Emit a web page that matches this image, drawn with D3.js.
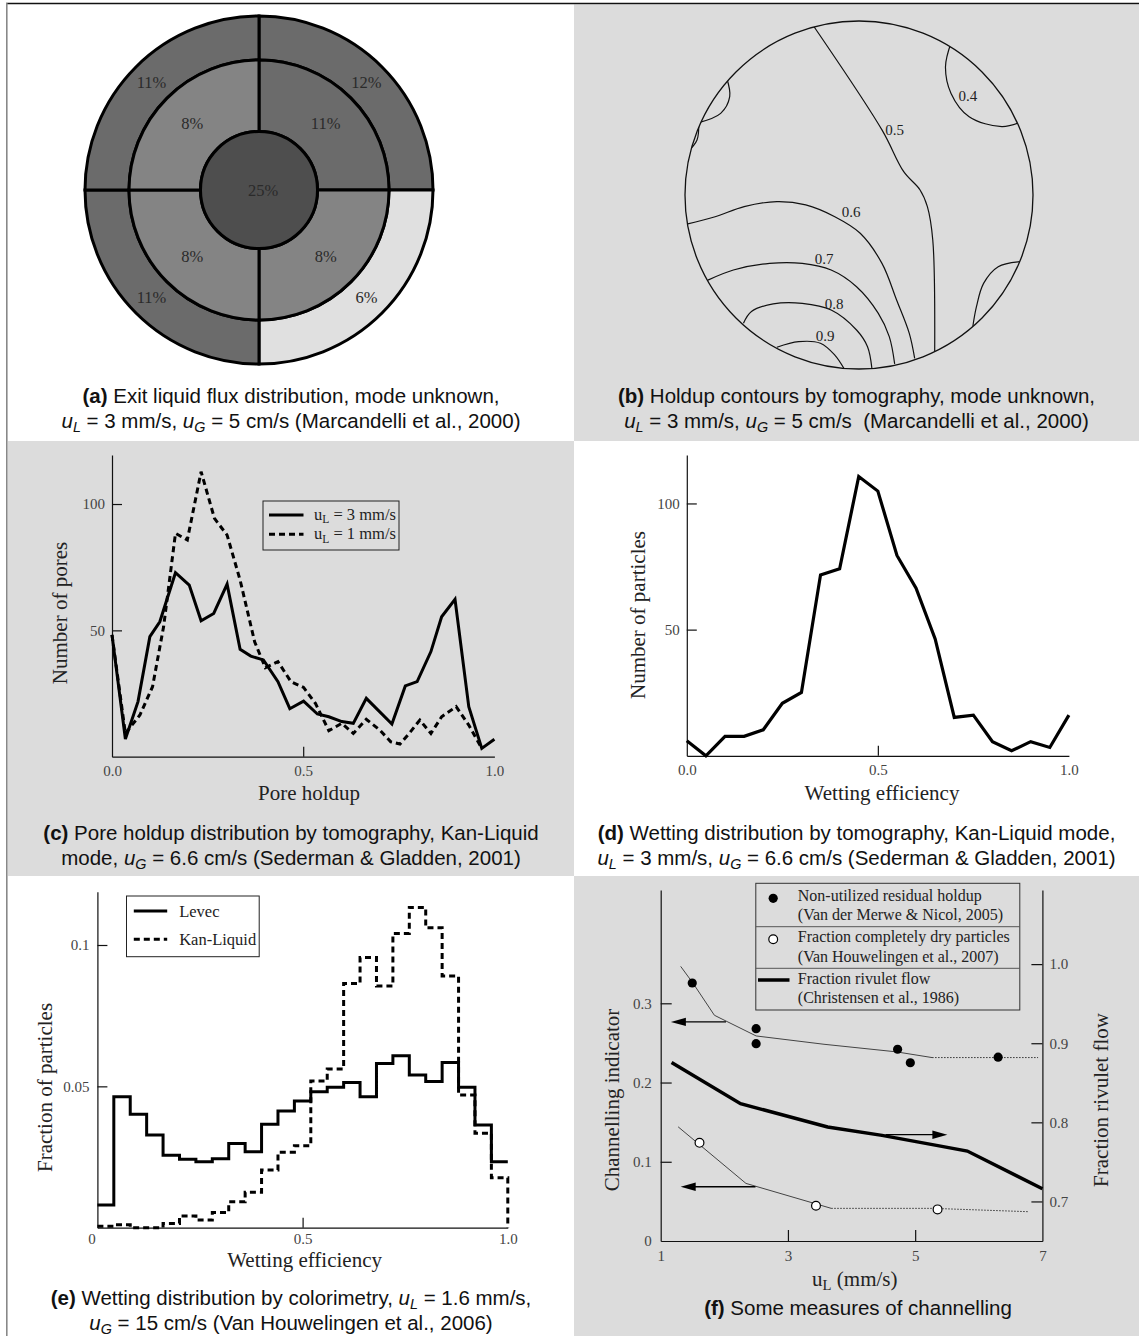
<!DOCTYPE html>
<html>
<head>
<meta charset="utf-8">
<script src="https://cdn.jsdelivr.net/npm/d3@7"></script>
<style>
  body { margin: 0; background: #fff; }
  svg text { white-space: pre; }
</style>
</head>
<body>
<svg id="fig" width="1139" height="1336"></svg>
<script>
// ---------- (a) exit liquid flux, % per sector, quadrants clockwise from 12 o'clock
const fluxOuter = [12, 6, 11, 11];
const fluxMiddle = [11, 8, 8, 8];
const fluxCentre = 25;

// ---------- (b) holdup contours, [u, v] normalised to the column radius
const contourLevels = ["0.4", "0.5", "0.6", "0.7", "0.8", "0.9"];
const contour04 = [[0.529, -0.875], [0.497, -0.737], [0.529, -0.584], [0.633, -0.45], [0.821, -0.393], [0.935, -0.421]];
const contour05 = [[-0.274, -0.99], [0.132, -0.374], [0.257, -0.134], [0.351, -0.029], [0.393, 0.067], [0.424, 0.259], [0.435, 0.9]];
const contour06 = [[-0.99, 0.167], [-0.827, 0.125], [-0.66, 0.067], [-0.472, 0.038], [-0.306, 0.057], [-0.139, 0.125], [0.007, 0.22], [0.132, 0.393], [0.216, 0.603], [0.289, 0.795], [0.32, 0.939]];
const contour07 = [[-0.868, 0.489], [-0.722, 0.431], [-0.514, 0.393], [-0.326, 0.393], [-0.16, 0.431], [-0.014, 0.527], [0.111, 0.68], [0.174, 0.814], [0.205, 0.971]];
const contour08 = [[-0.664, 0.737], [-0.618, 0.67], [-0.493, 0.626], [-0.326, 0.623], [-0.16, 0.661], [-0.014, 0.776], [0.049, 0.872], [0.074, 0.996]];
const contour09 = [[-0.472, 0.875], [-0.347, 0.843], [-0.222, 0.852], [-0.139, 0.92], [-0.087, 0.996]];
const contourWallA = [[-0.76, -0.671], [-0.743, -0.565], [-0.795, -0.469], [-0.921, -0.416]];
const contourWallB = [[-0.921, -0.416], [-0.931, -0.316], [-0.983, -0.249]];
const contourWallC = [[0.925, 0.383], [0.8, 0.412], [0.716, 0.508], [0.675, 0.642], [0.654, 0.757]];
const contourLabelPos = [[0.626, -0.571], [0.205, -0.374], [-0.045, 0.1], [-0.201, 0.368], [-0.143, 0.626], [-0.195, 0.81]];

// ---------- (c) pore holdup distribution
const poreHoldup3 = [0, 0.035, 0.068, 0.099, 0.125, 0.166, 0.202, 0.233, 0.266, 0.301, 0.335, 0.363, 0.396, 0.434, 0.465, 0.501, 0.537, 0.567, 0.601, 0.631, 0.665, 0.732, 0.767, 0.798, 0.834, 0.862, 0.897, 0.933, 0.967, 1.0];
const pores3 = [48.2, 7.0, 21.8, 47.5, 53.4, 72.8, 67.9, 53.8, 56.7, 68.3, 42.5, 39.8, 38.3, 29.7, 19.0, 22.0, 16.9, 15.8, 13.9, 13.2, 23.1, 12.9, 28.0, 29.7, 41.6, 55.4, 62.3, 19.8, 3.3, 6.9];
const poreHoldup1 = [0, 0.035, 0.073, 0.106, 0.135, 0.166, 0.197, 0.233, 0.268, 0.301, 0.335, 0.373, 0.401, 0.434, 0.468, 0.501, 0.532, 0.567, 0.601, 0.631, 0.665, 0.7, 0.729, 0.753, 0.777, 0.805, 0.834, 0.862, 0.9, 0.933, 0.967];
const pores1 = [48.2, 9.2, 16.5, 27.7, 51.5, 88.4, 85.8, 112.8, 94.3, 87.7, 69.9, 45.5, 35.2, 37.6, 29.7, 27.4, 21.1, 10.3, 13.2, 9.2, 14.8, 10.6, 5.9, 5.0, 9.2, 14.5, 9.2, 15.8, 19.8, 12.5, 3.3];

// ---------- (d) wetting distribution by tomography
const wettingD = [0, 0.05, 0.1, 0.15, 0.2, 0.25, 0.3, 0.35, 0.4, 0.45, 0.5, 0.55, 0.6, 0.65, 0.7, 0.75, 0.8, 0.85, 0.9, 0.95, 1.0];
const particlesD = [6.0, 0, 7.7, 7.7, 10.3, 20.8, 25.1, 71.7, 74.1, 110.7, 104.9, 79.4, 66.4, 46.3, 15.2, 16.1, 5.6, 2.0, 5.6, 3.3, 16.1];

// ---------- (e) wetting distribution by colorimetry (bin left edges + closing edge)
const binEdges = [0, 0.04, 0.08, 0.12, 0.16, 0.2, 0.24, 0.28, 0.32, 0.36, 0.4, 0.44, 0.48, 0.52, 0.56, 0.6, 0.64, 0.68, 0.72, 0.76, 0.8, 0.84, 0.88, 0.92, 0.96, 1.0];
const levec = [0.008, 0.0463, 0.0401, 0.0328, 0.0256, 0.0242, 0.0233, 0.0244, 0.0298, 0.0269, 0.0366, 0.0413, 0.0448, 0.0481, 0.0497, 0.0514, 0.0463, 0.0581, 0.0608, 0.054, 0.0517, 0.0584, 0.0497, 0.0363, 0.0233];
const kanLiquid = [0.0005, 0.001, 0, 0, 0.0015, 0.0041, 0.0027, 0.0054, 0.0092, 0.0125, 0.0204, 0.0267, 0.029, 0.0519, 0.0561, 0.0864, 0.0956, 0.0855, 0.1041, 0.1133, 0.1061, 0.089, 0.0469, 0.0334, 0.0177];

// ---------- (f) channelling measures
const residUL = [1.496, 2.5, 2.5, 4.724, 4.924, 6.304];
const residHoldup = [0.3256, 0.268, 0.249, 0.242, 0.225, 0.232];
const residFitUL = [1.314, 1.513, 1.844, 2.5, 3.567, 4.707, 5.266, 6.932];
const residFit = [0.3466, 0.3248, 0.2849, 0.2588, 0.2483, 0.2387, 0.2315, 0.2315];
const dryUL = [1.61, 3.441, 5.352];
const dryFraction = [0.1239, 0.0445, 0.0399];
const dryFitUL = [1.274, 2.34, 3.681, 5.278, 6.772];
const dryFit = [0.1441, 0.0727, 0.0412, 0.0412, 0.037];
const rivuletUL = [1.171, 2.255, 3.624, 4.479, 5.335, 5.82, 7.0];
const rivuletFlow = [0.8755, 0.8236, 0.7941, 0.7835, 0.7709, 0.7637, 0.716];
const arrowFrom = [2.027, 4.536, 2.49];
const arrowTo = [1.16, 5.506, 1.314];
const arrowLevel = [0.2765, 0.7844, 0.0685];
const arrowAxis = ["left", "right", "left"];

const SERIF = "'Liberation Serif','Times New Roman',serif";
const SANS = "'Liberation Sans',Arial,sans-serif";
const GREY = "#dcdcdc";

const translate = (a, b) => "translate(" + a + "," + b + ")";
const svg = d3.select("#fig");

// panel backgrounds
const panels = [
  [8, 4.5, 566, 436.5, "#fff"], [574, 4.5, 565, 436.5, GREY],
  [8, 441, 566, 435, GREY], [574, 441, 565, 435, "#fff"],
  [8, 876, 566, 460, "#fff"], [574, 876, 565, 460, GREY]
];
svg.selectAll("rect.panel").data(panels).enter().append("rect")
  .attr("class", "panel")
  .attr("x", d => d[0]).attr("y", d => d[1])
  .attr("width", d => d[2]).attr("height", d => d[3])
  .attr("fill", d => d[4]);
svg.append("line").attr("x1", 6).attr("x2", 1139).attr("y1", 3.5).attr("y2", 3.5)
  .attr("stroke", "#111").attr("stroke-width", 1.5);
svg.append("line").attr("x1", 6.8).attr("x2", 6.8).attr("y1", 3).attr("y2", 1336)
  .attr("stroke", "#888").attr("stroke-width", 1.6);

// text with bold / italic / subscript segments
function richText(sel, segs) {
  let low = false;
  segs.forEach(s => {
    const t = sel.append("tspan").text(s[0]);
    const sub = s[1] === "s" || s[1] === "rs";
    if (s[1] === "b") t.attr("font-weight", "bold");
    if (s[1] === "i" || s[1] === "s") t.attr("font-style", "italic");
    if (sub) t.attr("font-size", "70%");
    if (sub && !low) { t.attr("dy", "0.3em"); low = true; }
    else if (!sub && low) { t.attr("dy", "-0.21em"); low = false; }
  });
}

function caption(cx, y0, lines) {
  lines.forEach((segs, i) => {
    const t = svg.append("text")
      .attr("x", cx).attr("y", y0 + i * 24.5)
      .attr("text-anchor", "middle")
      .attr("font-family", SANS).attr("font-size", 20.5).attr("fill", "#111");
    richText(t, segs);
  });
}

function styleAxis(g) {
  g.attr("font-size", null).attr("font-family", null);
  g.select(".domain").attr("stroke", "#111").attr("stroke-width", 1.2);
  g.selectAll(".tick line").attr("stroke", "#111").attr("stroke-width", 1.2);
  g.selectAll(".tick text").attr("font-family", SERIF).attr("font-size", 15).attr("fill", "#444");
}

function dropEndTicks(g, keep) {
  g.selectAll(".tick").filter(d => !keep.includes(d)).select("line").remove();
}

function yTitle(x, y, label) {
  const t = svg.append("text")
    .attr("transform", translate(x, y) + " rotate(-90)")
    .attr("text-anchor", "middle").attr("dominant-baseline", "central")
    .attr("font-family", SERIF).attr("font-size", 21).attr("fill", "#222");
  richText(t, label);
}

function xTitle(x, y, label) {
  const t = svg.append("text")
    .attr("x", x).attr("y", y)
    .attr("text-anchor", "middle")
    .attr("font-family", SERIF).attr("font-size", 21).attr("fill", "#222");
  richText(t, label);
}

// ================= (a) flux distribution =================
(function() {
  const g = svg.append("g").attr("transform", translate(259, 190));
  const shade = d3.scaleThreshold().domain([7, 10, 20])
    .range(["#e0e0e0", "#848484", "#6b6b6b", "#4e4e4e"]);
  const quarter = Math.PI / 2;
  const rings = [
    { values: fluxOuter, inner: 130, outer: 174 },
    { values: fluxMiddle, inner: 58.5, outer: 130 }
  ];
  rings.forEach(ring => {
    const arc = d3.arc().innerRadius(ring.inner).outerRadius(ring.outer)
      .startAngle((d, i) => i * quarter).endAngle((d, i) => (i + 1) * quarter);
    g.selectAll(null).data(ring.values).enter().append("path")
      .attr("d", arc)
      .attr("fill", d => shade(d))
      .attr("stroke", "#000").attr("stroke-width", 3);
    g.selectAll(null).data(ring.values).enter().append("text")
      .attr("transform", (d, i) => {
        const c = arc.centroid(d, i);
        return translate(c[0], c[1]);
      })
      .attr("text-anchor", "middle").attr("dominant-baseline", "central")
      .attr("font-family", SERIF).attr("font-size", 16.5).attr("fill", "#2a2a2a")
      .text(d => d + "%");
  });
  g.append("circle").attr("r", 58.5)
    .attr("fill", shade(fluxCentre)).attr("stroke", "#000").attr("stroke-width", 3);
  g.append("text").attr("x", 4).attr("text-anchor", "middle").attr("dominant-baseline", "central")
    .attr("font-family", SERIF).attr("font-size", 16.5).attr("fill", "#2a2a2a")
    .text(fluxCentre + "%");
})();

caption(291, 403, [
  [["(a)", "b"], [" Exit liquid flux distribution, mode unknown,", ""]],
  [["u", "i"], ["L", "s"], [" = 3 mm/s, ", ""], ["u", "i"], ["G", "s"], [" = 5 cm/s (Marcandelli et al., 2000)", ""]]
]);

// ================= (b) holdup contours =================
(function() {
  const R = 174;
  const g = svg.append("g").attr("transform", translate(859, 195));
  const u = d3.scaleLinear().domain([-1, 1]).range([-R, R]);
  const v = d3.scaleLinear().domain([-1, 1]).range([-R, R]);
  svg.append("defs").append("clipPath").attr("id", "clipB")
    .append("circle").attr("r", R);
  const line = d3.line().x(d => u(d[0])).y(d => v(d[1])).curve(d3.curveCatmullRom.alpha(0.5));
  const contours = [contour04, contour05, contour06, contour07, contour08, contour09,
                    contourWallA, contourWallB, contourWallC];
  g.append("g").attr("clip-path", "url(#clipB)")
    .selectAll("path").data(contours).enter().append("path")
    .attr("d", line).attr("fill", "none")
    .attr("stroke", "#111").attr("stroke-width", 1.2);
  g.append("circle").attr("r", R).attr("fill", "none")
    .attr("stroke", "#111").attr("stroke-width", 1.3);
  g.selectAll("text").data(contourLevels).enter().append("text")
    .attr("x", (d, i) => u(contourLabelPos[i][0]))
    .attr("y", (d, i) => v(contourLabelPos[i][1]))
    .attr("text-anchor", "middle").attr("dominant-baseline", "central")
    .attr("font-family", SERIF).attr("font-size", 15).attr("fill", "#222")
    .text(d => d);
})();

caption(856.5, 403, [
  [["(b)", "b"], [" Holdup contours by tomography, mode unknown,", ""]],
  [["u", "i"], ["L", "s"], [" = 3 mm/s, ", ""], ["u", "i"], ["G", "s"], [" = 5 cm/s  (Marcandelli et al., 2000)", ""]]
]);

// ================= (c) pore holdup =================
(function() {
  const x = d3.scaleLinear().domain([0, 1]).range([112, 494.4]);
  const y = d3.scaleLinear().domain([0, 119.4]).range([756.7, 455]);
  const gx = svg.append("g").attr("transform", translate(0, 756.7))
    .call(d3.axisBottom(x).tickValues([0, 0.5, 1]).tickFormat(d3.format(".1f"))
      .tickSize(-10).tickSizeOuter(0).tickPadding(9));
  styleAxis(gx); dropEndTicks(gx, [0.5]);
  const gy = svg.append("g").attr("transform", translate(112, 0))
    .call(d3.axisLeft(y).tickValues([50, 100]).tickSize(-10).tickSizeOuter(0).tickPadding(7));
  styleAxis(gy);

  const series = [
    { xs: poreHoldup3, ys: pores3, dash: null },
    { xs: poreHoldup1, ys: pores1, dash: "6,4" }
  ];
  series.forEach(s => {
    const line = d3.line().x((d, i) => x(s.xs[i])).y(d => y(d));
    svg.append("path").datum(s.ys).attr("d", line)
      .attr("fill", "none").attr("stroke", "#000").attr("stroke-width", 3)
      .attr("stroke-dasharray", s.dash);
  });

  // legend
  const lg = svg.append("g").attr("transform", translate(263, 501));
  lg.append("rect").attr("width", 136).attr("height", 49)
    .attr("fill", "none").attr("stroke", "#222").attr("stroke-width", 1);
  const labels = [[["u", ""], ["L", "rs"], [" = 3 mm/s", ""]], [["u", ""], ["L", "rs"], [" = 1 mm/s", ""]]];
  labels.forEach((lab, i) => {
    const yy = 14 + i * 19.3;
    lg.append("line").attr("x1", 6).attr("x2", 40.5).attr("y1", yy).attr("y2", yy)
      .attr("stroke", "#000").attr("stroke-width", 3)
      .attr("stroke-dasharray", i ? "6,4" : null);
    const t = lg.append("text").attr("x", 51).attr("y", yy + 5)
      .attr("font-family", SERIF).attr("font-size", 16.5).attr("fill", "#222");
    richText(t, lab);
  });
})();
yTitle(60, 613, [["Number of pores", ""]]);
xTitle(309, 800, [["Pore holdup", ""]]);
caption(291, 840, [
  [["(c)", "b"], [" Pore holdup distribution by tomography, Kan-Liquid", ""]],
  [["mode, ", ""], ["u", "i"], ["G", "s"], [" = 6.6 cm/s (Sederman & Gladden, 2001)", ""]]
]);

// ================= (d) wetting by tomography =================
(function() {
  const x = d3.scaleLinear().domain([0, 1]).range([686.8, 1068.9]);
  const y = d3.scaleLinear().domain([0, 119.2]).range([755.8, 455]);
  const gx = svg.append("g").attr("transform", translate(0, 755.8))
    .call(d3.axisBottom(x).tickValues([0, 0.5, 1]).tickFormat(d3.format(".1f"))
      .tickSize(-10).tickSizeOuter(0).tickPadding(9));
  styleAxis(gx); dropEndTicks(gx, [0.5]);
  const gy = svg.append("g").attr("transform", translate(686.8, 0))
    .call(d3.axisLeft(y).tickValues([50, 100]).tickSize(-10).tickSizeOuter(0).tickPadding(7));
  styleAxis(gy);
  const line = d3.line().x((d, i) => x(wettingD[i])).y(d => y(d));
  svg.append("path").datum(particlesD).attr("d", line)
    .attr("fill", "none").attr("stroke", "#000").attr("stroke-width", 3.2);
})();
yTitle(638, 615, [["Number of particles", ""]]);
xTitle(882, 800, [["Wetting efficiency", ""]]);
caption(856.5, 840, [
  [["(d)", "b"], [" Wetting distribution by tomography, Kan-Liquid mode,", ""]],
  [["u", "i"], ["L", "s"], [" = 3 mm/s, ", ""], ["u", "i"], ["G", "s"], [" = 6.6 cm/s (Sederman & Gladden, 2001)", ""]]
]);

// ================= (e) wetting by colorimetry =================
(function() {
  const x = d3.scaleLinear().domain([0, 1]).range([97.4, 507.8]);
  const y = d3.scaleLinear().domain([0, 0.1]).range([1227.7, 945]);
  const top = y.invert(891.7);
  const gx = svg.append("g").attr("transform", translate(0, 1227.7))
    .call(d3.axisBottom(x).tickValues([0, 0.5, 1])
      .tickFormat(d => d === 0 ? "0" : d3.format(".1f")(d))
      .tickSize(-10).tickSizeOuter(0).tickPadding(6));
  styleAxis(gx); dropEndTicks(gx, [0.5]);
  gx.selectAll(".tick text").filter(d => d === 0).attr("dx", -6);
  const yAxisScale = y.copy().domain([0, top]).range([1227.7, 891.7]);
  const gy = svg.append("g").attr("transform", translate(97.4, 0))
    .call(d3.axisLeft(yAxisScale).tickValues([0.05, 0.1]).tickFormat(d => String(d))
      .tickSize(-10).tickSizeOuter(0).tickPadding(8));
  styleAxis(gy);

  const series = [
    { vals: levec, dash: null, close: false },
    { vals: kanLiquid, dash: "6,4", close: true }
  ];
  series.forEach(s => {
    const pts = binEdges.map((e, i) => [e, s.vals[Math.min(i, s.vals.length - 1)]]);
    if (s.close) pts.push([binEdges[binEdges.length - 1], 0]);
    const line = d3.line().x(d => x(d[0])).y(d => y(d[1])).curve(d3.curveStepAfter);
    svg.append("path").datum(pts).attr("d", line)
      .attr("fill", "none").attr("stroke", "#000").attr("stroke-width", 3)
      .attr("stroke-dasharray", s.dash);
  });

  const lg = svg.append("g").attr("transform", translate(126.5, 896));
  lg.append("rect").attr("width", 132.7).attr("height", 60.7)
    .attr("fill", "#fff").attr("stroke", "#222").attr("stroke-width", 1);
  ["Levec", "Kan-Liquid"].forEach((lab, i) => {
    const yy = 15 + i * 28.3;
    lg.append("line").attr("x1", 7.3).attr("x2", 40.7).attr("y1", yy).attr("y2", yy)
      .attr("stroke", "#000").attr("stroke-width", 3)
      .attr("stroke-dasharray", i ? "6,4" : null);
    lg.append("text").attr("x", 52.7).attr("y", yy + 5.5)
      .attr("font-family", SERIF).attr("font-size", 16.5).attr("fill", "#222").text(lab);
  });
})();
yTitle(44.5, 1087.5, [["Fraction of particles", ""]]);
xTitle(304.6, 1267, [["Wetting efficiency", ""]]);
caption(291, 1305, [
  [["(e)", "b"], [" Wetting distribution by colorimetry, ", ""], ["u", "i"], ["L", "s"], [" = 1.6 mm/s,", ""]],
  [["u", "i"], ["G", "s"], [" = 15 cm/s (Van Houwelingen et al., 2006)", ""]]
]);

// ================= (f) channelling =================
(function() {
  const x = d3.scaleLinear().domain([1, 7]).range([660.7, 1042.4]);
  const yL = d3.scaleLinear().domain([0, 0.443]).range([1241, 890]);
  const yR = d3.scaleLinear().domain([0.65, 1.0937]).range([1241, 890]);

  const gx = svg.append("g").attr("transform", translate(0, 1241))
    .call(d3.axisBottom(x).tickValues([1, 3, 5, 7]).tickFormat(d => String(d))
      .tickSize(-11).tickSizeOuter(0).tickPadding(9));
  styleAxis(gx); dropEndTicks(gx, [3, 5]);
  const gl = svg.append("g").attr("transform", translate(660.7, 0))
    .call(d3.axisLeft(yL).tickValues([0, 0.1, 0.2, 0.3]).tickFormat(d => String(d))
      .tickSize(-11).tickSizeOuter(0).tickPadding(9));
  styleAxis(gl); dropEndTicks(gl, [0.1, 0.2, 0.3]);
  const gr = svg.append("g").attr("transform", translate(1042.4, 0))
    .call(d3.axisRight(yR).tickValues([0.7, 0.8, 0.9, 1.0]).tickFormat(d3.format(".1f"))
      .tickSize(-11).tickSizeOuter(0).tickPadding(7));
  styleAxis(gr);

  // thin fitted trends: solid at first, dotted towards high flow rates
  const fits = [[residFitUL, residFit, 6], [dryFitUL, dryFit, 2]];
  fits.forEach(f => {
    const pts = f[1].map((d, i) => [f[0][i], d]);
    const line = d3.line().x(d => x(d[0])).y(d => yL(d[1]));
    svg.append("path").datum(pts.slice(0, f[2] + 1)).attr("d", line)
      .attr("fill", "none").attr("stroke", "#444").attr("stroke-width", 1);
    svg.append("path").datum(pts.slice(f[2])).attr("d", line)
      .attr("fill", "none").attr("stroke", "#333").attr("stroke-width", 1)
      .attr("stroke-dasharray", "1.5,1.5");
  });

  // rivulet flow (right axis)
  const riv = d3.line().x((d, i) => x(rivuletUL[i])).y(d => yR(d));
  svg.append("path").datum(rivuletFlow).attr("d", riv)
    .attr("fill", "none").attr("stroke", "#000").attr("stroke-width", 3.5);

  svg.selectAll(null).data(residHoldup).enter().append("circle")
    .attr("cx", (d, i) => x(residUL[i])).attr("cy", d => yL(d)).attr("r", 4.6)
    .attr("fill", "#000");
  svg.selectAll(null).data(dryFraction).enter().append("circle")
    .attr("cx", (d, i) => x(dryUL[i])).attr("cy", d => yL(d)).attr("r", 4.4)
    .attr("fill", "#fff").attr("stroke", "#000").attr("stroke-width", 1.2);

  // arrows pointing to the axis each curve belongs to
  arrowFrom.forEach((x0, i) => {
    const y = arrowAxis[i] === "left" ? yL : yR;
    const px0 = x(x0), px1 = x(arrowTo[i]), py = y(arrowLevel[i]);
    const dir = Math.sign(px1 - px0);
    svg.append("line").attr("x1", px0).attr("x2", px1 - dir * 12).attr("y1", py).attr("y2", py)
      .attr("stroke", "#000").attr("stroke-width", 1.3);
    svg.append("path")
      .attr("d", "M" + px1 + "," + py + "L" + (px1 - dir * 15) + "," + (py - 4.2) +
                 "L" + (px1 - dir * 15) + "," + (py + 4.2) + "Z")
      .attr("fill", "#000");
  });

  // legend
  const lg = svg.append("g").attr("transform", translate(755.8, 883.3));
  lg.append("rect").attr("width", 264).attr("height", 126.7)
    .attr("fill", GREY).attr("stroke", "#333").attr("stroke-width", 1);
  [43.4, 85].forEach(yy => lg.append("line").attr("x1", 0).attr("x2", 264)
    .attr("y1", yy).attr("y2", yy).attr("stroke", "#555").attr("stroke-width", 1));
  const rows = [
    ["Non-utilized residual holdup", "(Van der Merwe & Nicol, 2005)"],
    ["Fraction completely dry particles", "(Van Houwelingen et al., 2007)"],
    ["Fraction rivulet flow", "(Christensen et al., 1986)"]
  ];
  rows.forEach((r, i) => {
    const y0 = 17.5 + i * 41.5;
    lg.append("text").attr("x", 42).attr("y", y0)
      .attr("font-family", SERIF).attr("font-size", 16).attr("fill", "#222").text(r[0]);
    lg.append("text").attr("x", 42).attr("y", y0 + 19.5)
      .attr("font-family", SERIF).attr("font-size", 16).attr("fill", "#222").text(r[1]);
  });
  lg.append("circle").attr("cx", 17.4).attr("cy", 15).attr("r", 4.6).attr("fill", "#000");
  lg.append("circle").attr("cx", 17.4).attr("cy", 56).attr("r", 4.4)
    .attr("fill", "#fff").attr("stroke", "#000").attr("stroke-width", 1.2);
  lg.append("line").attr("x1", 2.2).attr("x2", 33.7).attr("y1", 96.7).attr("y2", 96.7)
    .attr("stroke", "#000").attr("stroke-width", 3.5);
})();
yTitle(611.5, 1100, [["Channelling indicator", ""]]);
yTitle(1101, 1100, [["Fraction rivulet flow", ""]]);
xTitle(854.8, 1286, [["u", ""], ["L", "rs"], [" (mm/s)", ""]]);
caption(858, 1315, [
  [["(f)", "b"], [" Some measures of channelling", ""]]
]);
</script>
</body>
</html>
